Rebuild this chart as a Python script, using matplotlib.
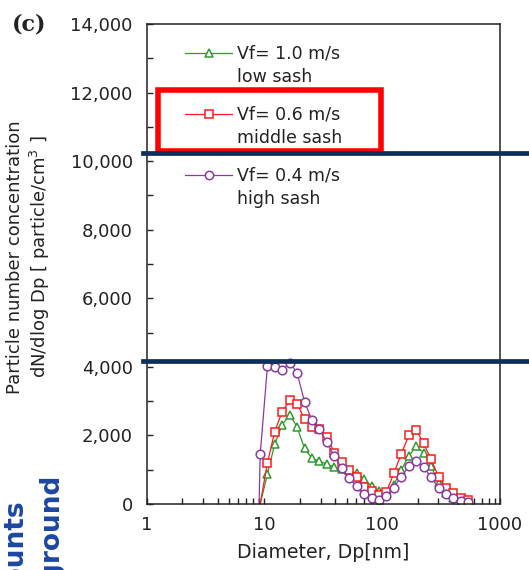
import matplotlib
matplotlib.use('AGG')
from matplotlib import pyplot as plt
from matplotlib.lines import Line2D
from matplotlib.patches import Rectangle
from matplotlib.ticker import FuncFormatter, MultipleLocator, LogLocator, NullFormatter

# SMPS channel midpoints [nm]
diam = [9.2, 10.6, 12.2, 14.1, 16.4, 18.9, 21.9, 25.3, 29.3, 33.9, 39.2, 45.3,
        52.4, 60.6, 70.1, 81.1, 93.8, 108.5, 125.5, 145.2, 167.9, 194.2, 224.6,
        259.8, 300.5, 347.6, 402.0, 465.0, 538.0]

# dN/dlogDp [particle/cm3]
low_sash = [0, 870, 1740, 2300, 2600, 2250, 1620, 1330, 1250, 1160, 1080, 1020,
            980, 900, 720, 520, 380, 300, 560, 1000, 1400, 1680, 1500, 1100,
            620, 330, 170, 80, 40]
middle_sash = [0, 1200, 2100, 2690, 3020, 2930, 2480, 2260, 2200, 1950, 1500, 1230,
               990, 780, 500, 380, 250, 350, 900, 1460, 2000, 2160, 1770, 1300,
               800, 480, 310, 170, 110]
high_sash_d = [9.0] + diam
high_sash = [0, 1450, 4020, 3990, 3910, 4120, 3830, 2980, 2450, 2180, 1800, 1390,
             1050, 760, 520, 300, 170, 130, 220, 480, 800, 1100, 1260, 1080,
             780, 460, 300, 180, 90, 50]

labels = [("Vf= 1.0 m/s", "low sash"), ("Vf= 0.6 m/s", "middle sash"), ("Vf= 0.4 m/s", "high sash")]

W, H = 529, 570
def fx(x):
    return x / W
def fy(y):
    return 1 - y / H

plt.rcParams['font.family'] = ['DejaVu Sans']
fig = plt.figure(figsize=(W / 100, H / 100), dpi=100, facecolor='white')
ax = fig.add_axes([fx(146.7), fy(504), (500 - 146.7) / W, (504 - 24) / H])

green = '#2f9a2f'
red = '#ff1a1a'
purple = '#8a3aa0'
mk = dict(markersize=6.2, markeredgewidth=1.1, markerfacecolor='white', linewidth=0.9)

ax.plot(diam, low_sash, color=green, marker='^', markevery=range(1, len(diam)), **mk)
ax.plot(diam, middle_sash, color=red, marker='s', markevery=range(1, len(diam)), **mk)
ax.plot(high_sash_d, high_sash, color=purple, marker='o', markevery=range(1, len(high_sash_d)), **mk)

ax.set_xscale('log')
ax.set_xlim(1, 1000)
ax.set_ylim(0, 14000)
ax.yaxis.set_major_locator(MultipleLocator(2000))
ax.yaxis.set_minor_locator(MultipleLocator(1000))
ax.yaxis.set_major_formatter(FuncFormatter(lambda v, p: '{:,.0f}'.format(v)))
ax.xaxis.set_major_locator(LogLocator(base=10, numticks=10))
ax.xaxis.set_minor_locator(LogLocator(base=10, subs=range(2, 10), numticks=10))
ax.xaxis.set_minor_formatter(NullFormatter())
ax.xaxis.set_major_formatter(FuncFormatter(lambda v, p: '%d' % v))

for sp in ax.spines.values():
    sp.set_linewidth(1.1)
    sp.set_color('#222222')
tkw = dict(direction='in', length=4.5, width=1, colors='#222222', labelcolor='#222222', labelsize=13)
ax.tick_params(which='both', top=False, right=False, **tkw)
ax.tick_params(axis='y', which='both', pad=10)
ax.tick_params(axis='x', which='both', pad=9)

fig.text(fx(323), fy(553), 'Diameter, Dp[nm]', ha='center', va='center', fontsize=13.6, color='#222222')
fig.text(fx(29), fy(257), 'Particle number concentration\ndN/dlog Dp [ particle/cm$^3$ ]',
         rotation=90, ha='center', va='center', multialignment='center', fontsize=13,
         color='#222222', linespacing=1.25)
fig.text(fx(12), fy(25), '(c)', family='DejaVu Serif', fontweight='bold', fontsize=16,
         ha='left', va='center', color='#222222')

# legend drawn by hand: handle + two text lines per entry
styles = [(green, '^'), (red, 's'), (purple, 'o')]
rows = [53.3, 114.3, 175]
for (c, m), y, (l1, l2) in zip(styles, rows, labels):
    fig.add_artist(Line2D([fx(185), fx(232)], [fy(y), fy(y)], color=c, linewidth=0.9,
                          transform=fig.transFigure))
    fig.add_artist(Line2D([fx(208.5)], [fy(y)], color=c, marker=m, markersize=6,
                          markerfacecolor='white', markeredgewidth=1.1, transform=fig.transFigure))
    fig.text(fx(237), fy(y), l1, ha='left', va='center', fontsize=12.5, color='#222222')
    fig.text(fx(237), fy(y + 24), l2, ha='left', va='center', fontsize=12.5, color='#222222')

# slide overlays
fig.add_artist(Rectangle((fx(158), fy(151)), (381 - 158) / W, (151 - 89.7) / H, fill=False,
                         edgecolor='#ff0000', linewidth=4, transform=fig.transFigure))
for y in (153.3, 361):
    fig.add_artist(Line2D([fx(143), 1.0], [fy(y), fy(y)], color='#0d2f5c', linewidth=3.4,
                          transform=fig.transFigure))
fig.text(fx(23), fy(499), 'counts', rotation=90, rotation_mode='anchor', ha='right', va='baseline',
         fontsize=19, fontweight='bold', color='#1b46a3')
fig.text(fx(58), fy(473), 'background', rotation=90, rotation_mode='anchor', ha='right', va='baseline',
         fontsize=19, fontweight='bold', color='#1b46a3')

plt.savefig('out.png', dpi=100, facecolor='white')
